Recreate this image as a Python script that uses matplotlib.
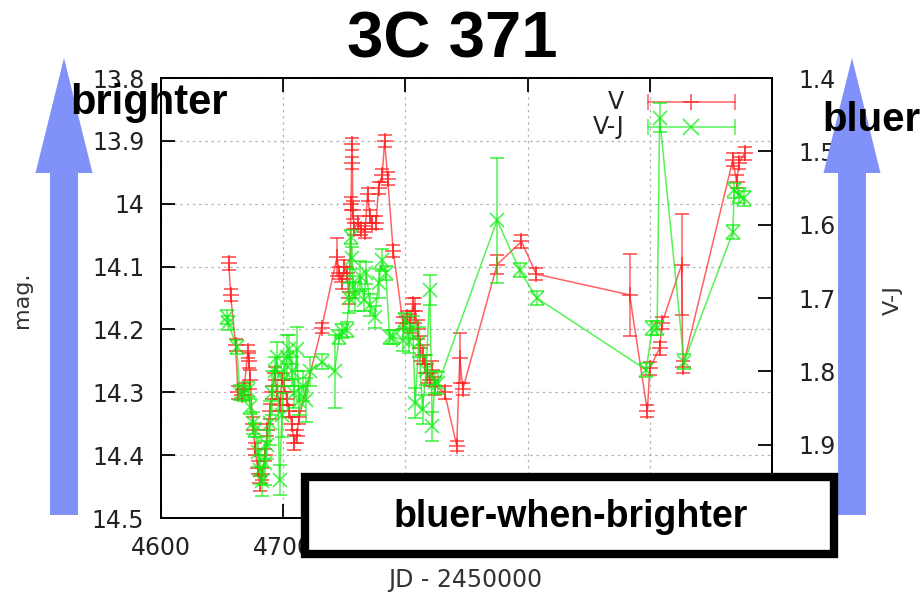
import numpy as np
import matplotlib
matplotlib.use('Agg')
from matplotlib import pyplot as plt
import matplotlib.patches as mpatches

# V band light curve (JD - 2450000, mag, error)
v_jd = [4655.5, 4657, 4661, 4663, 4666, 4668, 4671, 4672, 4673, 4675, 4677, 4679,
        4681, 4683, 4685, 4687, 4689, 4691, 4693, 4695, 4697, 4699, 4701, 4703,
        4705, 4707, 4709, 4711, 4713, 4731.5, 4744, 4746, 4748, 4750, 4752, 4754,
        4755.5, 4756, 4756.5, 4757, 4758, 4761, 4764, 4767, 4769, 4771, 4773, 4776,
        4778, 4781, 4783, 4785.5, 4790, 4798, 4801, 4804, 4806, 4808, 4810, 4812,
        4814, 4816, 4818, 4820, 4822, 4824, 4832, 4842, 4844.5, 4847, 4875, 4895,
        4907, 4983.5, 4998, 5000, 5008, 5010, 5026, 5027, 5068, 5071, 5073, 5077.5]
v_mag = [14.095, 14.145, 14.225, 14.300, 14.305, 14.295, 14.235, 14.250, 14.280, 14.350, 14.390, 14.420,
         14.445, 14.430, 14.400, 14.360, 14.330, 14.300, 14.270, 14.300, 14.320, 14.280, 14.290, 14.310,
         14.330, 14.350, 14.380, 14.370, 14.340, 14.197, 14.085, 14.110, 14.125, 14.100, 14.110, 14.150,
         14.000, 13.935, 13.905, 14.010, 14.040, 14.030, 14.040, 14.045, 13.985, 14.020, 14.030, 14.030,
         13.975, 13.955, 13.900, 13.960, 14.075, 14.190, 14.180, 14.190, 14.160, 14.170, 14.200, 14.230,
         14.240, 14.255, 14.270, 14.280, 14.265, 14.290, 14.300, 14.385, 14.245, 14.295, 14.097, 14.060,
         14.112, 14.145, 14.330, 14.262, 14.230, 14.190, 14.097, 14.260, 13.930, 13.965, 13.935, 13.920]
v_err = [0.01, 0.01, 0.01, 0.01, 0.008, 0.01, 0.01, 0.012, 0.015, 0.01, 0.01, 0.01,
         0.012, 0.01, 0.01, 0.01, 0.012, 0.01, 0.01, 0.01, 0.01, 0.01, 0.01, 0.01,
         0.01, 0.01, 0.012, 0.01, 0.01, 0.008, 0.03, 0.01, 0.01, 0.01, 0.01, 0.01,
         0.01, 0.01, 0.01, 0.015, 0.01, 0.01, 0.01, 0.01, 0.01, 0.01, 0.01, 0.01,
         0.01, 0.01, 0.01, 0.01, 0.01, 0.01, 0.01, 0.015, 0.01, 0.02, 0.015, 0.02,
         0.015, 0.015, 0.015, 0.01, 0.015, 0.015, 0.01, 0.008, 0.04, 0.01, 0.015, 0.01,
         0.01, 0.065, 0.01, 0.01, 0.01, 0.01, 0.08, 0.01, 0.01, 0.01, 0.01, 0.01]

# V-J colour
vj_jd = [4654, 4655, 4662, 4664.5, 4668, 4671, 4673, 4675, 4677, 4679, 4681, 4683,
         4685, 4687, 4689, 4691, 4693, 4695, 4697, 4699, 4701, 4703, 4705, 4707,
         4709, 4711, 4713, 4716, 4719, 4722, 4732, 4742, 4746, 4748, 4752, 4754,
         4755.5, 4756, 4757, 4759, 4763, 4766, 4768, 4771, 4775, 4778, 4781, 4784,
         4787, 4790, 4798, 4800, 4803, 4806, 4808, 4811, 4814, 4817, 4820, 4822,
         4824, 4827, 4875, 4893.5, 4907.5, 4997, 5002, 5006, 5008, 5028, 5068, 5069,
         5073, 5077]
vj_col = [1.726, 1.734, 1.767, 1.829, 1.830, 1.825, 1.848, 1.870, 1.880, 1.910, 1.934, 1.950,
          1.925, 1.900, 1.870, 1.830, 1.800, 1.780, 1.948, 1.860, 1.800, 1.780, 1.770, 1.800,
          1.830, 1.770, 1.840, 1.820, 1.839, 1.800, 1.787, 1.800, 1.753, 1.745, 1.743, 1.700,
          1.617, 1.646, 1.685, 1.698, 1.670, 1.703, 1.666, 1.710, 1.726, 1.680, 1.648, 1.666,
          1.753, 1.753, 1.757, 1.730, 1.760, 1.740, 1.843, 1.760, 1.852, 1.798, 1.689, 1.875,
          1.815, 1.816, 1.594, 1.662, 1.700, 1.798, 1.741, 1.741, 1.454, 1.787, 1.610, 1.553,
          1.560, 1.564]
vj_err = [0.01, 0.01, 0.01, 0.01, 0.01, 0.01, 0.01, 0.015, 0.01, 0.02, 0.02, 0.02,
          0.03, 0.02, 0.03, 0.03, 0.02, 0.02, 0.02, 0.03, 0.02, 0.03, 0.02, 0.02,
          0.02, 0.03, 0.02, 0.02, 0.03, 0.02, 0.01, 0.05, 0.01, 0.01, 0.01, 0.02,
          0.01, 0.015, 0.015, 0.02, 0.02, 0.015, 0.015, 0.015, 0.015, 0.02, 0.015, 0.01,
          0.01, 0.01, 0.015, 0.01, 0.015, 0.015, 0.02, 0.02, 0.02, 0.02, 0.02, 0.02,
          0.015, 0.015, 0.085, 0.01, 0.01, 0.01, 0.01, 0.01, 0.02, 0.01, 0.01, 0.01,
          0.01, 0.01]

x_ticks = [4600, 4700, 4800, 4900, 5000, 5100]
mag_ticks = [13.8, 13.9, 14.0, 14.1, 14.2, 14.3, 14.4, 14.5]
mag_labels = ['13.8', '13.9', '14', '14.1', '14.2', '14.3', '14.4', '14.5']
col_ticks = [1.4, 1.5, 1.6, 1.7, 1.8, 1.9]

red = '#ff2020'
green = '#10ee10'
arrow_c = '#8092fa'

W, H = 924, 594
fig = plt.figure(figsize=(W / 100, H / 100), dpi=100)
ax = fig.add_axes([161 / W, 1 - 518 / H, 611 / W, 440 / H])
ax2 = ax.twinx()

ax.errorbar(v_jd, v_mag, yerr=v_err, color=red, marker='+', ms=11, mew=1.3,
            lw=1.1, elinewidth=1.1, capsize=5, capthick=1.2, alpha=0.7, zorder=2)
ax2.errorbar(vj_jd, vj_col, yerr=vj_err, color=green, marker='x', ms=10, mew=1.3,
             lw=1.1, elinewidth=1.1, capsize=5, capthick=1.2, alpha=0.7, zorder=2)

ax.set_xlim(4600, 5100)
ax.set_ylim(14.5, 13.8)
ax2.set_ylim(2.0, 1.4)
ax.set_xticks(x_ticks)
ax.set_yticks(mag_ticks)
ax.set_yticklabels(mag_labels)
ax2.set_yticks(col_ticks)

ax.grid(True, color='#b4b4b4', linestyle=(0, (2, 3)), lw=0.9)
ax.tick_params(direction='in', length=10, width=1.3, top=True, right=False,
               labelsize=17, labelcolor='#222222', pad=12)
ax.tick_params(axis='x', pad=13)
ax2.tick_params(direction='in', length=10, width=1.3, labelsize=17,
                labelcolor='#222222', pad=19)
for a in (ax, ax2):
    for s in a.spines.values():
        s.set_linewidth(1.4)

# legend drawn gnuplot style
for lab, yy, col, mk in [('V', 0.945, red, '+'), ('V-J', 0.889, green, 'x')]:
    ax.text(0.758, yy, lab, transform=ax.transAxes, ha='right', va='center',
            fontsize=17, color='#222222')
    ax.plot([0.797, 0.939], [yy, yy], color=col, lw=1.1, alpha=0.7,
            transform=ax.transAxes, clip_on=False)
    ax.plot([0.797, 0.939], [yy, yy], ls='none', marker='|', ms=11, mew=1.1,
            color=col, alpha=0.7, transform=ax.transAxes, clip_on=False)
    ax.plot([0.867], [yy], ls='none', marker=mk, ms=11, mew=1.3, color=col,
            alpha=0.7, transform=ax.transAxes, clip_on=False)

fig.text(22 / W, 1 - 300 / H, 'mag.', rotation=90, ha='center', va='center',
         fontsize=16, color='#333333')
fig.text(893 / W, 1 - 300 / H, 'V-J', rotation=90, ha='center', va='center',
         fontsize=16, color='#333333')
fig.text(465 / W, 1 - 580 / H, 'JD - 2450000', ha='center', va='center',
         fontsize=17, color='#333333')

# big arrows
for xc in (64, 852):
    arr = mpatches.FancyArrow(xc / W, 1 - 515 / H, 0, (515 - 58) / H,
                              width=28 / W, head_width=57 / W,
                              head_length=115 / H, length_includes_head=True,
                              transform=fig.transFigure, color=arrow_c, lw=0,
                              zorder=5)
    fig.patches.append(arr)

bold = dict(family='Liberation Sans', weight='bold', color='black')
fig.text(452 / W, 1 - 40 / H, '3C 371', ha='center', va='center', fontsize=47,
         zorder=10, **bold)
fig.text(70 / W, 1 - 103 / H, 'brighter', ha='left', va='center', fontsize=30,
         zorder=10, **bold)
fig.text(822 / W, 1 - 120 / H, 'bluer', ha='left', va='center', fontsize=29,
         zorder=10, **bold)

box = mpatches.Rectangle((305 / W, 1 - 554 / H), 529 / W, 77 / H,
                         transform=fig.transFigure, facecolor='white',
                         edgecolor='black', lw=6, zorder=8)
fig.patches.append(box)
fig.text(571 / W, 1 - 517 / H, 'bluer-when-brighter', ha='center', va='center',
         fontsize=27, zorder=10, **bold)

fig.savefig('out.png', dpi=100)
